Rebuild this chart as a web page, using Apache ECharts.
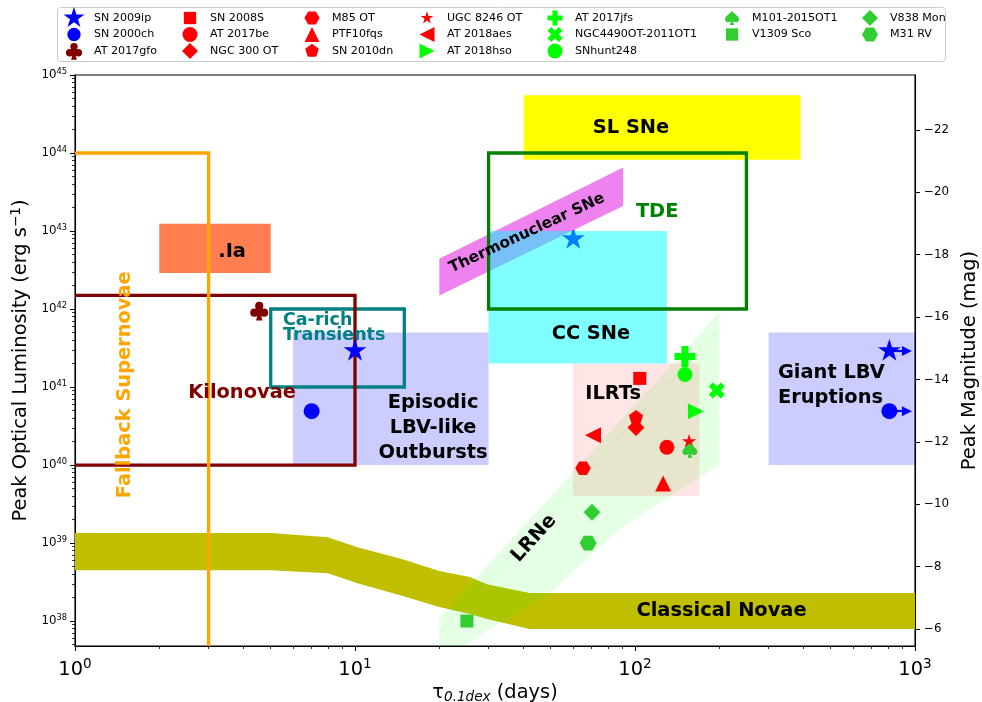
<!DOCTYPE html>
<html><head><meta charset="utf-8">
<script src="https://cdn.jsdelivr.net/npm/echarts@6/dist/echarts.min.js"></script>
<style>html,body{margin:0;padding:0;background:#fff}#c{width:982px;height:702px}</style>
</head><body><div id="c"></div><script>
// ---------------- data ----------------
const xMajorTicks = [1, 10, 100, 1000];
const yMajorTicks = [1e38, 1e39, 1e40, 1e41, 1e42, 1e43, 1e44, 1e45];
const minorMultipliers = [2, 3, 4, 5, 6, 7, 8, 9];
const xDecades = [1, 10, 100];
const yDecades = [1e37, 1e38, 1e39, 1e40, 1e41, 1e42, 1e43, 1e44];
const magTicks = [-22, -20, -18, -16, -14, -12, -10, -8, -6];
const tauRange = [1, 1000];
const lumRange = [4.786e37, 1.00001e45];
const magZeroPoint = 88.74; // M = magZeroPoint - 2.5 log10(L)

// regions: [tau0, tau1, L0, L1]
const ilrtBox = [60, 170, 4e39, 2e41];
const episodicBox = [6, 30, 1e40, 5e41];
const giantLbvBox = [300, 1000, 1e40, 5e41];
const ccSneBox = [30, 130, 2e41, 1e43];
const slSneBox = [40, 390, 8.2e43, 5.5e44];
const iaBox = [2, 5, 2.9e42, 1.24e43];
const tdeBox = [30, 250, 1e42, 1e44];
const caRichBox = [5, 15, 1e41, 1e42];
const kilonovaBox = [0.5, 10, 1e40, 1.5e42];
const fallbackEdge = [[0.5, 1e44], [3, 1e44], [3, 1e30]];
const thermoBand = [[20, 1.49e42], [90.7, 2.1e43], [90.7, 6.5e43], [20, 4.4e42]];
const lrneBand = [[20, 3.1e37], [50, 2.35e38], [90, 1.6e39], [200, 1e40], [200, 9e41], [20, 1.1e38]];
const lrneTrend = [[20, 7.2e37], [200, 5.5e41]];
const novaTimes = [0.5, 5, 8, 10.2, 14.8, 20, 25.7, 29.6, 42, 1000];
const novaUpper = [1.34e39, 1.34e39, 1.19e39, 8.85e38, 6.2e38, 4.37e38, 3.66e38, 2.97e38, 2.29e38, 2.29e38];
const novaLower = [4.49e38, 4.49e38, 4.1e38, 3.06e38, 2.09e38, 1.51e38, 1.23e38, 1.06e38, 7.9e37, 7.9e37];

// region labels
const labelTexts = ['.Ia', 'SL SNe', 'TDE', 'Thermonuclear SNe', 'CC SNe', 'ILRTs',
  'Episodic\nLBV-like\nOutbursts', 'Giant LBV\nEruptions', 'Ca-rich\nTransients',
  'Kilonovae', 'Fallback Supernovae', 'LRNe', 'Classical Novae'];
const labelAnchors = [[3.64, 5.43e42], [96.8, 2.09e44], [120, 1.77e43], [41.1, 9.38e42],
  [69.6, 4.84e41], [83.5, 8.04e40], [19.0, 3.02e40], [324, 1.05e41], [5.53, 5.7e41],
  [3.95, 8.5e40], [1.51, 1.07e41], [43.6, 1.15e39], [203.7, 1.34e38]];

// transients (tau [days], L [erg/s])
const sn2009ip = [[10, 2.9e41], [810, 2.9e41]];
const sn2009ipBehindCC = [[60.2, 7.9e42]];
const sn2000ch = [[7.0, 4.9e40], [810, 4.9e40]];
const at2017gfo = [[4.55, 9.5e41]];
const sn2008S = [[104, 1.29e41]];
const at2017be = [[130, 1.69e40]];
const ngc300ot = [[100.8, 3.03e40]];
const m85ot = [[65.2, 9.1e39]];
const ptf10fqs = [[126, 5.8e39]];
const sn2010dn = [[100.8, 4.07e40]];
const ugc8246ot = [[156, 2.0e40]];
const at2018aes = [[70.8, 2.4e40]];
const at2018hso = [[165, 4.9e40]];
const at2017jfs = [[150.8, 2.46e41]];
const ngc4490ot = [[196, 9.0e40]];
const snhunt248 = [[150.8, 1.45e41]];
const m101ot = [[157, 1.54e40]];
const v1309sco = [[25.1, 1.0e38]];
const v838mon = [[70.2, 2.48e39]];
const m31rv = [[68, 1.0e39]];
const eruptionArrowTip = 936;

// ---------------- styles ----------------
const FONT = 'DejaVu Sans';
const P = {
  star: 'M0,-1L0.2245,-0.309L0.951,-0.309L0.363,0.118L0.588,0.809L0,0.382L-0.588,0.809L-0.363,0.118L-0.951,-0.309L-0.2245,-0.309Z',
  circle: 'M-1,0A1,1 0 1,1 1,0A1,1 0 1,1 -1,0Z',
  club: 'M-0.42,-0.5A0.42,0.42 0 1,1 0.42,-0.5A0.42,0.42 0 1,1 -0.42,-0.5Z' +
        'M-0.92,0.2A0.42,0.42 0 1,1 -0.08,0.2A0.42,0.42 0 1,1 -0.92,0.2Z' +
        'M0.08,0.2A0.42,0.42 0 1,1 0.92,0.2A0.42,0.42 0 1,1 0.08,0.2Z' +
        'M0,-0.4L0.45,0.2L-0.45,0.2Z M-0.12,0.1L0.12,0.1L0.32,1L-0.32,1Z',
  square: 'M-1,-1L1,-1L1,1L-1,1Z',
  diamond: 'M0,-1L1,0L0,1L-1,0Z',
  hexagon: 'M1,0L0.5,0.866L-0.5,0.866L-1,0L-0.5,-0.866L0.5,-0.866Z',
  triUp: 'M0,-1L1,1L-1,1Z',
  triLeft: 'M-1,0L1,-1L1,1Z',
  triRight: 'M1,0L-1,1L-1,-1Z',
  pentagon: 'M0,-1L0.951,-0.309L0.588,0.809L-0.588,0.809L-0.951,-0.309Z',
  plus: 'M-1,-3L1,-3L1,-1L3,-1L3,1L1,1L1,3L-1,3L-1,1L-3,1L-3,-1L-1,-1Z',
  cross: 'M1.414,-2.828L2.828,-1.414L1.414,0L2.828,1.414L1.414,2.828L0,1.414L-1.414,2.828L-2.828,1.414L-1.414,0L-2.828,-1.414L-1.414,-2.828L0,-1.414Z',
  spade: 'M0,-1C0.3,-0.6 1,-0.3 1,0.2C1,0.6 0.5,0.75 0.12,0.45L0.32,1L-0.32,1L-0.12,0.45C-0.5,0.75 -1,0.6 -1,0.2C-1,-0.3 -0.3,-0.6 0,-1Z'
};
const padPath = (d, k) => 'path://M' + (-k) + ',' + (-k) + 'M' + k + ',' + k + d;

const RED = '#ff0000', LIME = '#00ff00', LGREEN = '#32cd32', BLUE = '#0000ff', MAROON = '#800000';
// name, data, color, shape, plot pad, plot size, legend pad
const transientStyles = [
  ['SN 2009ip', sn2009ip, BLUE, 'star', 1, 24, 1],
  ['SN 2000ch', sn2000ch, BLUE, 'circle', 1, 16, 1.65],
  ['AT 2017gfo', at2017gfo, MAROON, 'club', 1, 19.5, 1.25],
  ['SN 2008S', sn2008S, RED, 'square', 1, 13, 1.3],
  ['AT 2017be', at2017be, RED, 'circle', 1, 15, 1.07],
  ['NGC 300 OT', ngc300ot, RED, 'diamond', 1, 17, 1],
  ['M85 OT', m85ot, RED, 'hexagon', 1, 15.5, 1.05],
  ['PTF10fqs', ptf10fqs, RED, 'triUp', 1, 16, 1.07],
  ['SN 2010dn', sn2010dn, RED, 'pentagon', 1, 15, 1.12],
  ['UGC 8246 OT', ugc8246ot, RED, 'star', 1, 15, 1.2],
  ['AT 2018aes', at2018aes, RED, 'triLeft', 1, 16, 1.07],
  ['AT 2018hso', at2018hso, LIME, 'triRight', 1, 16, 1.07],
  ['AT 2017jfs', at2017jfs, LIME, 'plus', 3, 21, 3.2],
  ['NGC4490OT-2011OT1', ngc4490ot, LIME, 'cross', 2.828, 16, 3.0],
  ['SNhunt248', snhunt248, LIME, 'circle', 1, 15, 1.07],
  ['M101-2015OT1', m101ot, LGREEN, 'spade', 1, 15, 1.15],
  ['V1309 Sco', v1309sco, LGREEN, 'square', 1, 13, 1.3],
  ['V838 Mon', v838mon, LGREEN, 'diamond', 1, 17, 1],
  ['M31 RV', m31rv, LGREEN, 'hexagon', 1, 17, 1]
];
const legendColumns = [
  ['SN 2009ip', 'SN 2000ch', 'AT 2017gfo'],
  ['SN 2008S', 'AT 2017be', 'NGC 300 OT'],
  ['M85 OT', 'PTF10fqs', 'SN 2010dn'],
  ['UGC 8246 OT', 'AT 2018aes', 'AT 2018hso'],
  ['AT 2017jfs', 'NGC4490OT-2011OT1', 'SNhunt248'],
  ['M101-2015OT1', 'V1309 Sco'],
  ['V838 Mon', 'M31 RV']
];
const legendLefts = [63, 182, 304, 419, 547, 724, 862];

// ---------------- build ----------------
const xMinorTicks = [], yMinorTicks = [];
xDecades.forEach(d => minorMultipliers.forEach(m => xMinorTicks.push(m * d)));
yDecades.forEach(d => minorMultipliers.forEach(m => { const v = m * d; if (v > lumRange[0] && v < lumRange[1]) yMinorTicks.push(v); }));
const magAt = L => magZeroPoint - 2.5 * Math.log10(L);

function clipOf(cs) { return { type: 'rect', shape: { x: cs.x, y: cs.y, width: cs.width, height: cs.height } }; }
function shapeSeries(name, build, z) {
  return {
    type: 'custom', name, silent: true, coordinateSystem: 'cartesian2d', xAxisIndex: 0, yAxisIndex: 0, z: z || 2,
    data: [[10, 1e40]],
    renderItem: (params, api) => {
      const el = build(p => api.coord(p));
      el.clipPath = clipOf(params.coordSys);
      return el;
    }
  };
}
const boxPts = b => [[b[0], b[2]], [b[1], b[2]], [b[1], b[3]], [b[0], b[3]]];
const fillSeries = (name, pts, fill) => shapeSeries(name, c => ({ type: 'polygon', shape: { points: pts.map(c) }, style: { fill, stroke: null } }));
const outlineSeries = (name, pts, stroke) => shapeSeries(name, c => ({ type: 'polygon', shape: { points: pts.map(c) }, style: { fill: 'none', stroke, lineWidth: 3.3, lineJoin: 'miter' } }));
const lineSeriesC = (name, pts, stroke, w) => shapeSeries(name, c => ({ type: 'polyline', shape: { points: pts.map(c) }, style: { fill: null, stroke, lineWidth: w, lineJoin: 'miter' } }));

const novaPts = novaTimes.map((t, i) => [t, novaUpper[i]]).concat(novaTimes.map((t, i) => [t, novaLower[i]]).reverse());

const series = [
  {
    type: 'scatter', name: 'SN 2009ip (behind CC)', data: sn2009ipBehindCC, symbol: padPath(P.star, 1), z: 1,
    symbolSize: 24, symbolKeepAspect: true, itemStyle: { color: BLUE, opacity: 1 }, silent: true
  },
  fillSeries('novae', novaPts, '#bfbf00'),
  fillSeries('lrne', lrneBand, 'rgba(0,255,0,0.1)'),
  lineSeriesC('lrneTrend', lrneTrend, 'rgba(0,200,0,0.12)', 1),
  fillSeries('ilrt', boxPts(ilrtBox), 'rgba(255,0,0,0.1)'),
  fillSeries('episodic', boxPts(episodicBox), 'rgba(0,0,255,0.2)'),
  fillSeries('giant', boxPts(giantLbvBox), 'rgba(0,0,255,0.2)'),
  fillSeries('ia', boxPts(iaBox), '#ff7f50'),
  fillSeries('slsne', boxPts(slSneBox), '#ffff00'),
  fillSeries('thermo', thermoBand, '#ee82ee'),
  fillSeries('ccsne', boxPts(ccSneBox), 'rgba(0,255,255,0.5)'),
  outlineSeries('tde', boxPts(tdeBox), '#008000'),
  outlineSeries('carich', boxPts(caRichBox), '#008080'),
  outlineSeries('kilonova', boxPts(kilonovaBox), MAROON),
  lineSeriesC('fallback', fallbackEdge, '#ffa500', 3.3)
];

// labels
const labelColor = ['#000', '#000', '#008000', '#000', '#000', '#000', '#000', '#000', '#008080', MAROON, '#ffa500', '#000', '#000'];
const labelAlign = ['center', 'center', 'center', 'center', 'center', 'center', 'center', 'left', 'left', 'center', 'center', 'center', 'center'];
const labelRot = [0, 0, 0, 25, 0, 0, 0, 0, 0, 0, 90, 48, 0];
const labelSize = [19.4, 19.4, 19.4, 15.3, 19.4, 19.4, 19.4, 19.4, 17.5, 19.4, 19.4, 19.4, 19.4];
const labelLineH = [25, 25, 25, 20, 25, 25, 25, 25, 15, 25, 25, 25, 25];
series.push({
  type: 'custom', name: 'labels', silent: true, coordinateSystem: 'cartesian2d', data: labelAnchors, z: 3,
  renderItem: (params, api) => {
    const i = params.dataIndex;
    const p = api.coord([api.value(0), api.value(1)]);
    return {
      type: 'text', x: p[0], y: p[1], rotation: labelRot[i] * Math.PI / 180,
      style: {
        text: labelTexts[i], fill: labelColor[i], fontFamily: FONT, fontWeight: 'bold',
        fontSize: labelSize[i], lineHeight: labelLineH[i],
        align: labelAlign[i], verticalAlign: 'middle'
      }
    };
  }
});

// transients
transientStyles.forEach(([name, data, color, shape, pad, size]) => {
  const s = {
    type: 'scatter', name, data, symbol: padPath(P[shape], pad), symbolSize: size, symbolKeepAspect: true,
    itemStyle: { color, opacity: 1 }, z: 4, silent: true
  };
  if (name === 'SN 2009ip' || name === 'SN 2000ch') {
    s.markLine = {
      silent: true, animation: false, symbol: ['none', 'triangle'], symbolSize: [10, 10], clip: false,
      lineStyle: { color: BLUE, width: 2.2, type: 'solid', opacity: 1 }, label: { show: false },
      data: [[{ coord: [data[1][0], data[1][1]] }, { coord: [eruptionArrowTip, data[1][1]] }]]
    };
  }
  series.push(s);
});

const styleByName = {};
transientStyles.forEach(r => styleByName[r[0]] = r);
const legends = legendColumns.map((col, ci) => ({
  orient: 'vertical', left: legendLefts[ci], top: ci === 0 ? 7 : 10, padding: 0,
  itemWidth: 30, itemHeight: ci === 0 ? 22 : 16, itemGap: ci === 0 ? -5.5 : 0.5,
  selectedMode: false, z: 10,
  textStyle: { fontFamily: FONT, fontSize: 11.1, color: '#000', padding: [0, 0, 0, 0] },
  data: col.map(n => ({ name: n, icon: padPath(P[styleByName[n][3]], styleByName[n][6]) }))
}));

const sup = (b, s) => '{b|' + b + '}{s|' + s + '}';
const axisCommon = { splitLine: { show: false }, axisLine: { onZero: false, lineStyle: { color: '#000', width: 1.1 } } };

const option = {
  animation: false,
  textStyle: { fontFamily: FONT },
  grid: { left: 75, right: 67, top: 75, bottom: 56, show: true, borderColor: '#000', borderWidth: 1.1, backgroundColor: 'transparent', containLabel: false, outerBoundsMode: 'none' },
  legend: legends,
  graphic: [{ type: 'rect', left: 57, top: 7, z: 0, shape: { width: 888, height: 54, r: 3 }, style: { fill: '#fff', stroke: '#cccccc', lineWidth: 1 } }],
  xAxis: [
    Object.assign({}, axisCommon, {
      type: 'log', logBase: 10, min: tauRange[0], max: tauRange[1], position: 'bottom',
      axisTick: { length: 5, inside: false, customValues: xMajorTicks, lineStyle: { color: '#000', width: 1 } },
      axisLabel: {
        customValues: xMajorTicks, margin: 11, color: '#000',
        formatter: v => sup('10', Math.round(Math.log10(v))),
        rich: { b: { fontSize: 19.4, fontFamily: FONT, color: '#000' }, s: { fontSize: 13.6, fontFamily: FONT, color: '#000', padding: [0, 0, 11, 0] } }
      },
      name: '{t|τ}{sub|0.1dex}{t| (days)}', nameLocation: 'middle', nameGap: 33,
      nameTextStyle: { color: '#000', rich: { t: { fontSize: 19.4, fontFamily: FONT, color: '#000' }, sub: { fontSize: 13.6, fontStyle: 'italic', fontFamily: FONT, color: '#000', padding: [9, 0, 0, 0] } } }
    }),
    {
      type: 'log', logBase: 10, min: tauRange[0], max: tauRange[1], position: 'bottom',
      axisLine: { show: false, onZero: false }, axisLabel: { show: false }, splitLine: { show: false },
      axisTick: { length: 3, inside: false, customValues: xMinorTicks, lineStyle: { color: '#000', width: 0.8 } }
    }
  ],
  yAxis: [
    Object.assign({}, axisCommon, {
      type: 'log', logBase: 10, min: lumRange[0], max: lumRange[1], position: 'left',
      axisTick: { length: 5, inside: false, customValues: yMajorTicks, lineStyle: { color: '#000', width: 1 } },
      axisLabel: {
        customValues: yMajorTicks, margin: 8, color: '#000',
        formatter: v => sup('10', Math.round(Math.log10(v))),
        rich: { b: { fontSize: 11.8, fontFamily: FONT, color: '#000' }, s: { fontSize: 8.3, fontFamily: FONT, color: '#000', padding: [0, 0, 7, 0] } }
      },
      name: 'Peak Optical Luminosity (erg s{s|−1})', nameLocation: 'middle', nameGap: 40, nameRotate: 90,
      nameTextStyle: { color: '#000', fontSize: 19.4, fontFamily: FONT, rich: { s: { fontSize: 13.6, fontFamily: FONT, color: '#000', padding: [0, 0, 10, 0] } } }
    }),
    Object.assign({}, axisCommon, {
      type: 'value', min: magAt(lumRange[1]), max: magAt(lumRange[0]), inverse: true, position: 'right',
      axisTick: { length: 5, inside: false, customValues: magTicks, lineStyle: { color: '#000', width: 1 } },
      axisLabel: { customValues: magTicks, margin: 9, color: '#000', fontSize: 11.8, fontFamily: FONT, formatter: v => (v < 0 ? '\u2212' : '') + Math.abs(v) },
      name: 'Peak Magnitude (mag)', nameLocation: 'middle', nameGap: 45, nameRotate: 90,
      nameTextStyle: { color: '#000', fontSize: 19.4, fontFamily: FONT }
    }),
    {
      type: 'log', logBase: 10, min: lumRange[0], max: lumRange[1], position: 'left',
      axisLine: { show: false, onZero: false }, axisLabel: { show: false }, splitLine: { show: false },
      axisTick: { length: 3, inside: false, customValues: yMinorTicks, lineStyle: { color: '#000', width: 0.8 } }
    }
  ],
  series
};
const chart = echarts.init(document.getElementById('c'), null, { renderer: 'canvas', width: 982, height: 702 });
chart.setOption(option);
</script></body></html>
